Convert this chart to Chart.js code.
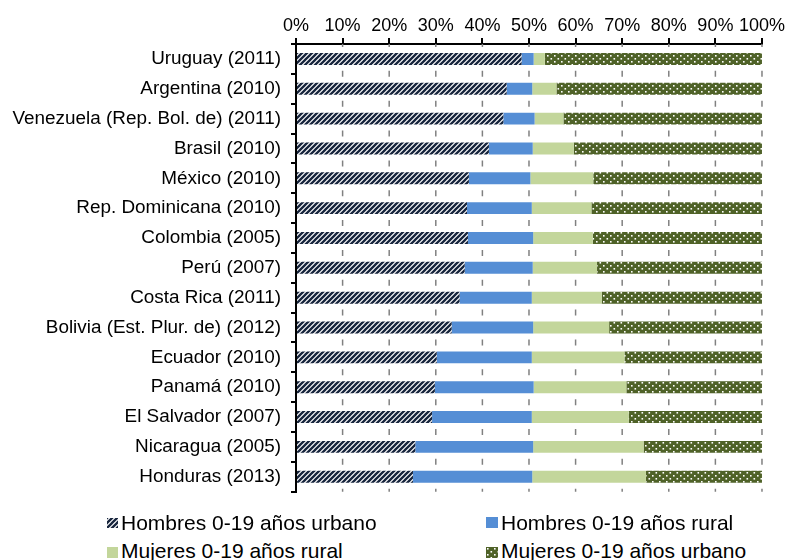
<!DOCTYPE html>
<html lang="es">
<head>
  <meta charset="UTF-8" />
  <title>Población 0-19 años por sexo y área</title>
  <script src="https://cdn.jsdelivr.net/npm/chart.js"></script>
  <style>
    body {
      margin: 0;
      background: #fff;
      font-family: "Liberation Sans", Arial, sans-serif;
    }
    #wrap {
      position: relative;
      width: 786px;
      height: 560px;
    }
    #box {
      position: absolute;
      left: 0;
      top: 0;
      width: 786px;
      height: 513px;
    }
    .leg {
      position: absolute;
      font-size: 21px;
      color: #000;
      white-space: nowrap;
      line-height: 24px;
    }
    .leg canvas {
      position: absolute;
    }
  </style>
</head>
<body>
  <div id="wrap">
    <div id="box"><canvas id="chart"></canvas></div>
    <div id="legend"></div>
  </div>

  <script>
    const categories = [
      'Uruguay (2011)', 'Argentina (2010)', 'Venezuela (Rep. Bol. de) (2011)', 'Brasil (2010)',
      'México (2010)', 'Rep. Dominicana (2010)', 'Colombia (2005)', 'Perú (2007)',
      'Costa Rica (2011)', 'Bolivia (Est. Plur. de) (2012)', 'Ecuador (2010)', 'Panamá (2010)',
      'El Salvador (2007)', 'Nicaragua (2005)', 'Honduras (2013)'
    ];
    const hombresUrbano = [48.4, 45.2, 44.5, 41.4, 37.1, 36.7, 36.9, 36.2, 35.1, 33.4, 30.2, 29.8, 29.2, 25.6, 25.1];
    const hombresRural  = [2.6, 5.5, 6.7, 9.4, 13.2, 13.9, 14.0, 14.6, 15.5, 17.5, 20.4, 21.2, 21.4, 25.3, 25.6];
    const mujeresRural  = [2.4, 5.2, 6.2, 8.8, 13.5, 12.8, 12.8, 13.8, 15.0, 16.3, 19.9, 19.9, 20.8, 23.7, 24.4];
    const mujeresUrbano = [46.6, 44.1, 42.6, 40.4, 36.2, 36.6, 36.3, 35.4, 34.4, 32.8, 29.5, 29.1, 28.6, 25.4, 24.9];
    const seriesNames = [
      'Hombres 0-19 años urbano', 'Hombres 0-19 años rural',
      'Mujeres 0-19 años rural', 'Mujeres 0-19 años urbano'
    ];

    Chart.defaults.font.family = '"Liberation Sans", Arial, sans-serif';
    Chart.defaults.color = '#000';

    // rayado diagonal azul oscuro
    function hatchPattern(ctx) {
      const c = document.createElement('canvas');
      c.width = 5; c.height = 5;
      const g = c.getContext('2d');
      g.fillStyle = '#fff';
      g.fillRect(0, 0, 5, 5);
      g.strokeStyle = '#17253d';
      g.lineWidth = 2.3;
      g.beginPath();
      g.moveTo(-1, 6); g.lineTo(6, -1);
      g.moveTo(-1, 1); g.lineTo(1, -1);
      g.moveTo(4, 6); g.lineTo(6, 4);
      g.stroke();
      return ctx.createPattern(c, 'repeat');
    }

    // verde oliva con puntos blancos
    function dotPattern(ctx) {
      const c = document.createElement('canvas');
      c.width = 7; c.height = 6;
      const g = c.getContext('2d');
      g.fillStyle = '#4f6228';
      g.fillRect(0, 0, 7, 6);
      g.fillStyle = '#fff';
      g.fillRect(1, 1, 1.6, 1.6);
      g.fillRect(4.5, 4, 1.6, 1.6);
      return ctx.createPattern(c, 'repeat');
    }

    const ctx = document.getElementById('chart').getContext('2d');
    const colors = [hatchPattern(ctx), '#558ed5', '#c3d69b', dotPattern(ctx)];
    const values = [hombresUrbano, hombresRural, mujeresRural, mujeresUrbano];

    // líneas de división punteadas
    const dashedGrid = {
      id: 'dashedGrid',
      beforeDatasetsDraw(chart) {
        const { ctx, chartArea, scales } = chart;
        const pitch = (chartArea.bottom - chartArea.top) / categories.length;
        ctx.save();
        ctx.beginPath();
        ctx.rect(chartArea.left, chartArea.top, chartArea.right - chartArea.left + 2, chartArea.bottom - chartArea.top);
        ctx.clip();
        ctx.strokeStyle = '#808080';
        ctx.lineWidth = 1.5;
        ctx.setLineDash([6, pitch - 6]);
        scales.x.ticks.forEach(t => {
          if (t.value === 0) return;
          const x = scales.x.getPixelForValue(t.value);
          ctx.beginPath();
          ctx.moveTo(x, chartArea.top - 3);
          ctx.lineTo(x, chartArea.bottom + 3);
          ctx.stroke();
        });
        ctx.restore();
      }
    };

    const chart = new Chart(ctx, {
      type: 'bar',
      data: {
        labels: categories,
        datasets: seriesNames.map((name, i) => ({
          label: name,
          data: values[i],
          backgroundColor: colors[i],
          borderWidth: 0,
          categoryPercentage: 1,
          barPercentage: 0.4
        }))
      },
      options: {
        indexAxis: 'y',
        responsive: true,
        maintainAspectRatio: false,
        animation: false,
        layout: { padding: { left: 0, right: 0, top: 0, bottom: 0 } },
        plugins: {
          legend: { display: false },
          tooltip: { enabled: false }
        },
        scales: {
          x: {
            position: 'top',
            stacked: true,
            min: 0,
            max: 100,
            afterFit: s => { s.height = 44; },
            ticks: {
              stepSize: 10,
              padding: 1,
              maxRotation: 0,
              minRotation: 0,
              autoSkip: false,
              font: { size: 18 },
              callback: v => v + '%'
            },
            grid: { drawOnChartArea: false, tickLength: 6, color: '#000', lineWidth: 2 },
            border: { color: '#000', width: 2 }
          },
          y: {
            stacked: true,
            afterFit: s => { s.width = 296; },
            ticks: { padding: 10, font: { size: 18.9 }, autoSkip: false },
            grid: { drawOnChartArea: false, tickLength: 5, color: '#000', lineWidth: 2 },
            border: { color: '#000', width: 2 }
          }
        }
      },
      plugins: [dashedGrid]
    });

    // leyenda en dos columnas
    const legendPos = [
      { x: 107, y: 511, mx: 0, my: 7, mw: 11, mh: 10 },
      { x: 486, y: 511, mx: 0, my: 6, mw: 12, mh: 11 },
      { x: 107, y: 539, mx: 0, my: 8, mw: 11, mh: 11 },
      { x: 486, y: 539, mx: 0, my: 8, mw: 12, mh: 11 }
    ];
    const legendEl = document.getElementById('legend');
    seriesNames.forEach((name, i) => {
      const p = legendPos[i];
      const item = document.createElement('div');
      item.className = 'leg';
      item.style.left = p.x + 'px';
      item.style.top = p.y + 'px';
      const m = document.createElement('canvas');
      m.width = p.mw; m.height = p.mh;
      m.style.left = p.mx + 'px';
      m.style.top = p.my + 'px';
      const mc = m.getContext('2d');
      mc.fillStyle = i === 0 ? hatchPattern(mc) : i === 3 ? dotPattern(mc) : colors[i];
      mc.fillRect(0, 0, p.mw, p.mh);
      const span = document.createElement('span');
      span.textContent = name;
      span.style.marginLeft = (p.mw + 3) + 'px';
      item.appendChild(m);
      item.appendChild(span);
      legendEl.appendChild(item);
    });
  </script>
</body>
</html>
